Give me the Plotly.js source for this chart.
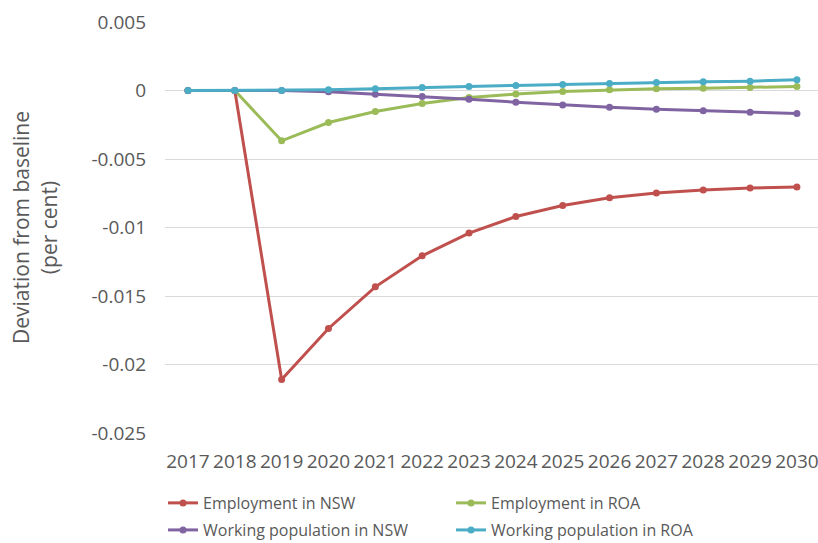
<!DOCTYPE html>
<html>
<head>
<meta charset="utf-8">
<script src="https://cdn.plot.ly/plotly-3.0.1.min.js"></script>
<style>html,body{margin:0;padding:0;background:#fff;}#chart{width:818px;height:543px;}</style>
</head>
<body>
<div id="chart"></div>
<script>
const years = ["2017","2018","2019","2020","2021","2022","2023","2024","2025","2026","2027","2028","2029","2030"];
const employmentNSW = [0, 0, -0.0211, -0.01737, -0.01433, -0.01207, -0.01041, -0.0092, -0.0084, -0.00783, -0.00749, -0.00727, -0.00712, -0.00705];
const employmentROA = [0, 0, -0.00367, -0.00234, -0.00153, -0.00095, -0.00051, -0.00026, -0.00007, 0.00005, 0.00012, 0.00017, 0.00022, 0.00029];
const workPopNSW = [0, 0, 0, -0.0001, -0.00027, -0.00044, -0.00063, -0.00085, -0.00105, -0.00122, -0.00136, -0.00148, -0.00158, -0.00168];
const workPopROA = [0, 0, 0, 0.00005, 0.00012, 0.00022, 0.0003, 0.00037, 0.00044, 0.00052, 0.00058, 0.00063, 0.00068, 0.00078];
const seriesNames = ["Employment in NSW", "Employment in ROA", "Working population in NSW", "Working population in ROA"];
const yTickVals = [0.005, 0, -0.005, -0.01, -0.015, -0.02, -0.025];
const yTickText = ["0.005", "0", "-0.005", "-0.01", "-0.015", "-0.02", "-0.025"];
const yTitle = "Deviation from baseline<br>(per cent)";

const colors = ["#C0504D", "#9BBB59", "#8064A2", "#4BACC6"];
const seriesData = [employmentNSW, employmentROA, workPopNSW, workPopROA];
const legendIds = ["legend", "legend", "legend2", "legend2"];
const FONT = "'Open Sans', 'Noto Sans', sans-serif";

const traces = seriesData.map((d, i) => ({
  type: "scatter",
  mode: "lines+markers",
  x: years,
  y: d,
  name: seriesNames[i],
  legend: legendIds[i],
  line: {color: colors[i], width: 3},
  marker: {color: colors[i], size: 7, symbol: "circle"}
}));

const legendCommon = {
  orientation: "h",
  xref: "container",
  xanchor: "left",
  x: 0.1993,
  yref: "container",
  yanchor: "middle",
  entrywidth: 243,
  entrywidthmode: "pixels",
  font: {family: FONT, size: 16, color: "#595959"},
  bgcolor: "rgba(0,0,0,0)",
  itemwidth: 30,
  tracegroupgap: 0
};

const layout = {
  width: 818,
  height: 543,
  margin: {l: 165, r: 0, t: 22, b: 110},
  paper_bgcolor: "#ffffff",
  plot_bgcolor: "#ffffff",
  font: {family: FONT, size: 19, color: "#595959"},
  showlegend: true,
  xaxis: {
    type: "category",
    range: [-0.49, 13.45],
    automargin: false,
    showgrid: false,
    zeroline: false,
    showline: false,
    ticks: "",
    ticklabelstandoff: 15,
    tickfont: {family: FONT, size: 19, color: "#595959"},
    fixedrange: true
  },
  yaxis: {
    range: [-0.025, 0.005],
    automargin: false,
    tickvals: yTickVals,
    ticktext: yTickText,
    showgrid: true,
    gridcolor: "#D9D9D9",
    gridwidth: 1,
    zeroline: false,
    showline: false,
    ticks: "",
    ticklabelstandoff: 18,
    tickfont: {family: FONT, size: 19, color: "#595959"},
    title: {text: yTitle, font: {family: FONT, size: 21, color: "#595959"}, standoff: 28},
    fixedrange: true
  },
  legend: Object.assign({}, legendCommon, {y: 0.0737}),
  legend2: Object.assign({}, legendCommon, {y: 0.0239})
};

Plotly.newPlot("chart", traces, layout, {displayModeBar: false, staticPlot: true});
</script>
</body>
</html>
